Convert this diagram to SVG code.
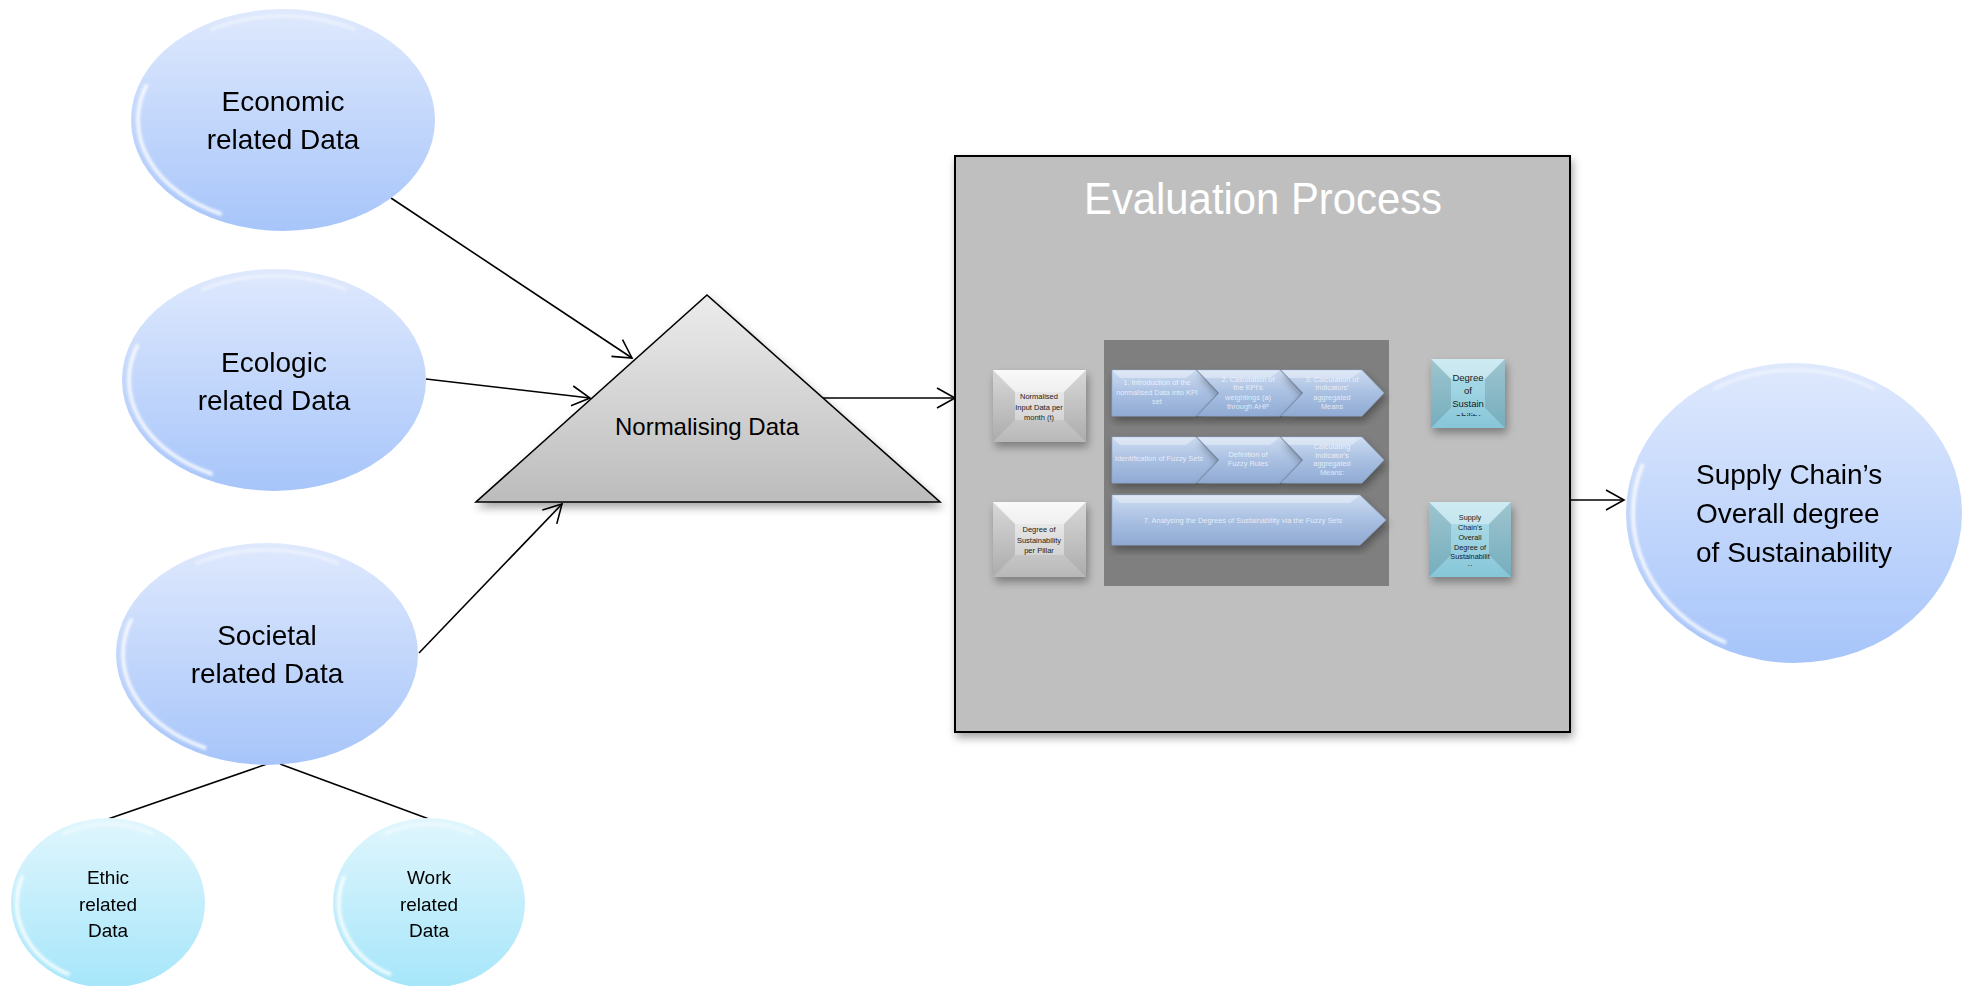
<svg xmlns="http://www.w3.org/2000/svg" width="1963" height="986" viewBox="0 0 1963 986">
<defs>
  <linearGradient id="gBlue" x1="0" y1="0" x2="0" y2="1">
    <stop offset="0" stop-color="#dfe9fd"/>
    <stop offset="1" stop-color="#a7c5fa"/>
  </linearGradient>
  <linearGradient id="gCyan" x1="0" y1="0" x2="0" y2="1">
    <stop offset="0" stop-color="#e0f6fd"/>
    <stop offset="1" stop-color="#a6e6fa"/>
  </linearGradient>
  <linearGradient id="gTri" x1="0" y1="0" x2="0" y2="1">
    <stop offset="0" stop-color="#ececec"/>
    <stop offset="1" stop-color="#bcbcbc"/>
  </linearGradient>
  <linearGradient id="gGrayBox" x1="0" y1="0" x2="0" y2="1">
    <stop offset="0" stop-color="#f6f6f6"/>
    <stop offset="1" stop-color="#c4c4c4"/>
  </linearGradient>
  <linearGradient id="gTeal" x1="0" y1="0" x2="0" y2="1">
    <stop offset="0" stop-color="#b4e0ec"/>
    <stop offset="1" stop-color="#86c6d8"/>
  </linearGradient>
  <linearGradient id="gChev" x1="0" y1="0" x2="0" y2="1">
    <stop offset="0" stop-color="#cddcf1"/>
    <stop offset="0.5" stop-color="#a9c0e2"/>
    <stop offset="1" stop-color="#90aad3"/>
  </linearGradient>
  <filter id="shadow" x="-10%" y="-10%" width="125%" height="130%">
    <feDropShadow dx="2" dy="5" stdDeviation="4" flood-color="#000" flood-opacity="0.35"/>
  </filter>
  <filter id="blur2" x="-20%" y="-20%" width="140%" height="140%">
    <feGaussianBlur stdDeviation="1.5"/>
  </filter>
  <marker id="arrow" markerUnits="userSpaceOnUse" markerWidth="22" markerHeight="24" refX="20" refY="12" orient="auto">
    <path d="M2,2 L20,12 L2,22" fill="none" stroke="#000" stroke-width="1.6"/>
  </marker>
  <clipPath id="clipDeg"><rect x="1431" y="359" width="74" height="57"/></clipPath>
  <clipPath id="clipSup"><rect x="1429" y="502" width="82" height="64"/></clipPath>
</defs>
<style>
  .big { font-family: "Liberation Sans", Arial, sans-serif; font-size: 28px; fill: #000; text-anchor: middle; }
  .bigL { font-family: "Liberation Sans", Arial, sans-serif; font-size: 28px; fill: #000; text-anchor: start; }
  .small { font-family: "Liberation Sans", Arial, sans-serif; font-size: 19px; fill: #000; text-anchor: middle; }
  .blueEll { fill: url(#gBlue); }
  .cyanEll { fill: url(#gCyan); }
  .gl { fill: none; stroke: #ffffff; stroke-width: 3.5px; opacity: 0.9; vector-effect: non-scaling-stroke; }
  .gt { fill: none; stroke: #ffffff; stroke-width: 3px; opacity: 0.5; vector-effect: non-scaling-stroke; }
  .conn { stroke: #000; stroke-width: 1.6; fill: none; }
  .boxTxt { font-family: "Liberation Sans", Arial, sans-serif; font-size: 7.5px; fill: #1a1a1a; text-anchor: middle; }
  .chevTxt { font-family: "Liberation Sans", Arial, sans-serif; font-size: 7.4px; fill: #ffffff; fill-opacity: 0.72; text-anchor: middle; }
  .chev { fill: url(#gChev); stroke: #8aa4cc; stroke-width: 0.6; filter: url(#shadow); }
  .hl { fill: #ffffff; opacity: 0.35; }
  .dk { fill: #000000; opacity: 0.12; }
</style>

<g id="connectors">
  <line class="conn" x1="391" y1="198" x2="632" y2="358" marker-end="url(#arrow)"/>
  <line class="conn" x1="426" y1="379" x2="590" y2="398" marker-end="url(#arrow)"/>
  <line class="conn" x1="419" y1="653" x2="562" y2="504" marker-end="url(#arrow)"/>
  <line class="conn" x1="823" y1="398" x2="955" y2="398" marker-end="url(#arrow)"/>
  <line class="conn" x1="1570" y1="500" x2="1624" y2="500" marker-end="url(#arrow)"/>
  <line class="conn" x1="267" y1="764" x2="108" y2="819"/>
  <line class="conn" x1="280" y1="764" x2="429" y2="819"/>
</g>

<g id="economic">
  <ellipse class="blueEll" cx="283" cy="120" rx="152" ry="111"/>
  <g filter="url(#blur2)">
    <path class="gl" d="M-0.9397,-0.342 A1,1 0 0 0 -0.4226,0.9063" transform="translate(283,120) scale(145,104)"/>
    <path class="gt" d="M-0.5,-0.866 A1,1 0 0 1 0.5,-0.866" transform="translate(283,120) scale(145,104)"/>
  </g>
  <text class="big" x="283" y="111">Economic</text>
  <text class="big" x="283" y="149">related Data</text>
</g>

<g id="ecologic">
  <ellipse class="blueEll" cx="274" cy="380" rx="152" ry="111"/>
  <g filter="url(#blur2)">
    <path class="gl" d="M-0.9397,-0.342 A1,1 0 0 0 -0.4226,0.9063" transform="translate(274,380) scale(145,104)"/>
    <path class="gt" d="M-0.5,-0.866 A1,1 0 0 1 0.5,-0.866" transform="translate(274,380) scale(145,104)"/>
  </g>
  <text class="big" x="274" y="372">Ecologic</text>
  <text class="big" x="274" y="410">related Data</text>
</g>

<g id="societal">
  <ellipse class="blueEll" cx="267" cy="654" rx="151" ry="111"/>
  <g filter="url(#blur2)">
    <path class="gl" d="M-0.9397,-0.342 A1,1 0 0 0 -0.4226,0.9063" transform="translate(267,654) scale(144,104)"/>
    <path class="gt" d="M-0.5,-0.866 A1,1 0 0 1 0.5,-0.866" transform="translate(267,654) scale(144,104)"/>
  </g>
  <text class="big" x="267" y="645">Societal</text>
  <text class="big" x="267" y="683">related Data</text>
</g>

<g id="ethic">
  <ellipse class="cyanEll" cx="108" cy="903" rx="97" ry="85"/>
  <g filter="url(#blur2)">
    <path class="gl" d="M-0.9397,-0.342 A1,1 0 0 0 -0.4226,0.9063" transform="translate(108,903) scale(91,79)"/>
    <path class="gt" d="M-0.5,-0.866 A1,1 0 0 1 0.5,-0.866" transform="translate(108,903) scale(91,79)"/>
  </g>
  <text class="small" x="108" y="884">Ethic</text>
  <text class="small" x="108" y="911">related</text>
  <text class="small" x="108" y="937">Data</text>
</g>

<g id="work">
  <ellipse class="cyanEll" cx="429" cy="903" rx="96" ry="85"/>
  <g filter="url(#blur2)">
    <path class="gl" d="M-0.9397,-0.342 A1,1 0 0 0 -0.4226,0.9063" transform="translate(429,903) scale(90,79)"/>
    <path class="gt" d="M-0.5,-0.866 A1,1 0 0 1 0.5,-0.866" transform="translate(429,903) scale(90,79)"/>
  </g>
  <text class="small" x="429" y="884">Work</text>
  <text class="small" x="429" y="911">related</text>
  <text class="small" x="429" y="937">Data</text>
</g>

<g id="normalising">
  <polygon points="707,295 476,502 940,502" fill="url(#gTri)" stroke="#000" stroke-width="1.6" filter="url(#shadow)"/>
  <text x="707" y="435" font-family="Liberation Sans, Arial, sans-serif" font-size="24" text-anchor="middle" fill="#000">Normalising Data</text>
</g>

<g id="evaluation">
  <rect x="955" y="156" width="615" height="576" fill="#bfbfbf" stroke="#000" stroke-width="2" filter="url(#shadow)"/>
  <text x="1263" y="214" font-family="Liberation Sans, Arial, sans-serif" font-size="45" text-anchor="middle" fill="#ffffff" textLength="358" lengthAdjust="spacingAndGlyphs">Evaluation Process</text>
  <rect x="1104" y="340" width="285" height="246" fill="#7f7f7f"/>
</g>

<g id="input-box">
  <rect x="993" y="370" width="93" height="72" fill="url(#gGrayBox)" filter="url(#shadow)"/>
  <polygon class="hl" points="993,370 1086,370 1064,392 1015,392"/>
  <polygon class="dk" points="993,370 1015,392 1015,420 993,442"/>
  <polygon class="dk" points="1086,370 1064,392 1064,420 1086,442"/>
  <polygon fill="#000" opacity="0.06" points="993,442 1015,420 1064,420 1086,442"/>
  <text class="boxTxt" x="1039" y="399">Normalised</text>
  <text class="boxTxt" x="1039" y="409.5">Input Data per</text>
  <text class="boxTxt" x="1039" y="420">month (t)</text>
</g>

<g id="pillar-box">
  <rect x="993" y="502" width="93" height="75" fill="url(#gGrayBox)" filter="url(#shadow)"/>
  <polygon class="hl" points="993,502 1086,502 1064,524 1015,524"/>
  <polygon class="dk" points="993,502 1015,524 1015,555 993,577"/>
  <polygon class="dk" points="1086,502 1064,524 1064,555 1086,577"/>
  <polygon fill="#000" opacity="0.06" points="993,577 1015,555 1064,555 1086,577"/>
  <text class="boxTxt" x="1039" y="532">Degree of</text>
  <text class="boxTxt" x="1039" y="542.5">Sustainability</text>
  <text class="boxTxt" x="1039" y="553">per Pillar</text>
</g>

<g id="step1">
  <polygon class="chev" points="1112,370 1196,370 1218,393 1196,416 1112,416"/>
  <polygon class="hl" points="1112,370 1196,370 1186,378 1120,378"/>
  <text class="chevTxt" x="1157" y="385">1. Introduction of the</text>
  <text class="chevTxt" x="1157" y="394.5">normalised Data into KPI</text>
  <text class="chevTxt" x="1157" y="404">set</text>
</g>
<g id="step2">
  <polygon class="chev" points="1197,370 1280,370 1302,393 1280,416 1197,416 1219,393"/>
  <polygon class="hl" points="1197,370 1280,370 1270,378 1205,378"/>
  <text class="chevTxt" x="1248" y="381.5">2. Calculation of</text>
  <text class="chevTxt" x="1248" y="390">the KPI's</text>
  <text class="chevTxt" x="1248" y="399.5">weightings (a)</text>
  <text class="chevTxt" x="1248" y="408.5">through AHP</text>
</g>
<g id="step3">
  <polygon class="chev" points="1281,370 1362,370 1384,393 1362,416 1281,416 1303,393"/>
  <polygon class="hl" points="1281,370 1362,370 1352,378 1289,378"/>
  <text class="chevTxt" x="1332" y="381.5">3. Calculation of</text>
  <text class="chevTxt" x="1332" y="390">Indicators'</text>
  <text class="chevTxt" x="1332" y="399.5">aggregated</text>
  <text class="chevTxt" x="1332" y="408.5">Means</text>
</g>
<g id="step4">
  <polygon class="chev" points="1112,437 1196,437 1218,460 1196,483 1112,483"/>
  <polygon class="hl" points="1112,437 1196,437 1186,445 1120,445"/>
  <text class="chevTxt" x="1159" y="461">Identification of Fuzzy Sets</text>
</g>
<g id="step5">
  <polygon class="chev" points="1197,437 1280,437 1302,460 1280,483 1197,483 1219,460"/>
  <polygon class="hl" points="1197,437 1280,437 1270,445 1205,445"/>
  <text class="chevTxt" x="1248" y="457">Definition of</text>
  <text class="chevTxt" x="1248" y="466">Fuzzy Rules</text>
</g>
<g id="step6">
  <polygon class="chev" points="1281,437 1362,437 1384,460 1362,483 1281,483 1303,460"/>
  <polygon class="hl" points="1281,437 1362,437 1352,445 1289,445"/>
  <text class="chevTxt" x="1332" y="449">Calculating</text>
  <text class="chevTxt" x="1332" y="457.5">Indicator's</text>
  <text class="chevTxt" x="1332" y="466">aggregated</text>
  <text class="chevTxt" x="1332" y="475">Means:</text>
</g>
<g id="step7">
  <polygon class="chev" points="1112,495 1360,495 1386,520 1360,545 1112,545"/>
  <polygon class="hl" points="1112,495 1360,495 1350,503 1120,503"/>
  <text class="chevTxt" x="1243" y="523">7. Analysing the Degrees of Sustainability via the Fuzzy Sets</text>
</g>

<g id="degree-box">
  <rect x="1431" y="359" width="74" height="69" fill="url(#gTeal)" filter="url(#shadow)"/>
  <polygon class="hl" points="1431,359 1505,359 1485,379 1451,379"/>
  <polygon class="dk" points="1431,359 1451,379 1451,408 1431,428"/>
  <polygon class="dk" points="1505,359 1485,379 1485,408 1505,428"/>
  <g clip-path="url(#clipDeg)" font-family="Liberation Sans, Arial, sans-serif" font-size="9.5" text-anchor="middle" fill="#1a1a1a">
    <text x="1468" y="381">Degree</text>
    <text x="1468" y="394">of</text>
    <text x="1468" y="407">Sustain</text>
    <text x="1468" y="420">ability</text>
  </g>
</g>

<g id="overall-box">
  <rect x="1429" y="502" width="82" height="75" fill="url(#gTeal)" filter="url(#shadow)"/>
  <polygon class="hl" points="1429,502 1511,502 1489,524 1451,524"/>
  <polygon class="dk" points="1429,502 1451,524 1451,555 1429,577"/>
  <polygon class="dk" points="1511,502 1489,524 1489,555 1511,577"/>
  <g clip-path="url(#clipSup)" font-family="Liberation Sans, Arial, sans-serif" font-size="7.3" text-anchor="middle" fill="#1a1a1a">
    <text x="1470" y="520">Supply</text>
    <text x="1470" y="529.5">Chain's</text>
    <text x="1470" y="539.5">Overall</text>
    <text x="1470" y="549.5">Degree of</text>
    <text x="1470" y="559">Sustainabilit</text>
    <text x="1470" y="569">y</text>
  </g>
</g>

<g id="supply-chain">
  <ellipse class="blueEll" cx="1794" cy="513" rx="168" ry="150"/>
  <g filter="url(#blur2)">
    <path class="gl" d="M-0.9397,-0.342 A1,1 0 0 0 -0.4226,0.9063" transform="translate(1794,513) scale(161,143)"/>
    <path class="gt" d="M-0.5,-0.866 A1,1 0 0 1 0.5,-0.866" transform="translate(1794,513) scale(161,143)"/>
  </g>
  <text class="bigL" x="1696" y="484">Supply Chain’s</text>
  <text class="bigL" x="1696" y="523">Overall degree</text>
  <text class="bigL" x="1696" y="562">of Sustainability</text>
</g>
</svg>
